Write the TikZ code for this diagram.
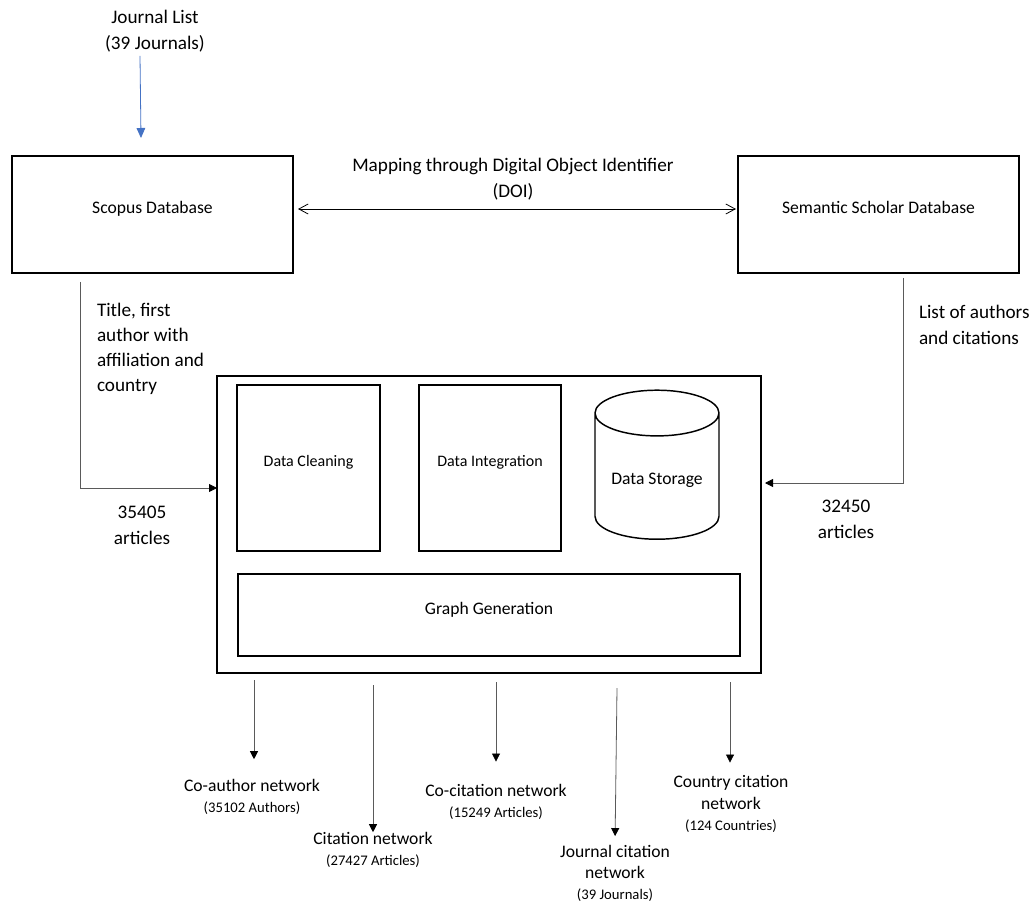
\documentclass[tikz,border=0pt]{standalone}
\usepackage{fontspec}
\setmainfont{Carlito}
\usetikzlibrary{arrows.meta, shapes.geometric}
\definecolor{linegray}{RGB}{90,90,90}
\definecolor{arrowblue}{RGB}{68,114,196}

\begin{document}
\begin{tikzpicture}[x=0.75pt, y=-0.75pt]
\tikzset{ inner sep=0pt, outer sep=0pt,
  box/.style={draw, line width=1.1pt},
  raised/.style={text depth=10pt},
  conn/.style={linegray, line width=0.6pt, -{Triangle[length=6pt, width=6pt, color=black]}},
  big/.style={align=center, font=\fontsize{14.4}{19.5}\selectfont},
  mid/.style={align=center, font=\fontsize{13.2}{16}\selectfont},
  sml/.style={align=center, font=\fontsize{12}{14}\selectfont},
}
\newcommand{\cnt}[1]{{\fontsize{11}{13}\selectfont #1}}

\useasboundingbox (0,0) rectangle (1034,905);

%\draw [lightgray, dashed](0,0) grid[step=50] (1034,905);

\node [big] (jlist) at (155,31) {Journal List\\(39 Journals)};
\node [big] (doi) at (513,179) {Mapping through Digital Object Identifier\\(DOI)};

\node [box, mid, raised, minimum width=210.75pt, minimum height=87.75pt] (scopus) at (152.5,214.5) {Scopus Database};
\node [box, mid, raised, minimum width=210.75pt, minimum height=87.75pt] (semantic) at (878.5,214.5) {Semantic Scholar Database};

\node [box, minimum width=408pt, minimum height=222.75pt] (main) at (489,524.5) {};
\node [box, sml, raised, minimum width=107.25pt, minimum height=124.5pt] (clean) at (308.5,468) {Data Cleaning};
\node [box, sml, raised, minimum width=106.5pt, minimum height=124.5pt] (integ) at (490,468) {Data Integration};
\node [box, mid, text height=15pt, cylinder, shape border rotate=90, aspect=0.5, minimum width=93pt, minimum height=111.75pt] (store) at (657,476.5) {Data Storage};
\node [box, mid, raised, minimum width=376.5pt, minimum height=61.5pt] (graph) at (489,615) {Graph Generation};

\node [big, align=left, anchor=west, font=\fontsize{14.4}{18.75}\selectfont] (scinfo) at (97,348.5) {Title, first\\author with\\affiliation and\\country};
\node [big] (scnum) at (142,525) {35405\\articles};
\node [big, align=left, anchor=west] (ssinfo) at (919,325) {List of authors\\and citations};
\node [big] (ssnum) at (846,519.5) {32450\\articles};

\node [mid] (coauth) at (252,797) {Co-author network\\\cnt{(35102 Authors)}};
\node [mid] (cite) at (373,850) {Citation network\\\cnt{(27427 Articles)}};
\node [mid] (cocite) at (496,802) {Co-citation network\\\cnt{(15249 Articles)}};
\node [mid] (jcite) at (615,873.5) {Journal citation\\network\\\cnt{(39 Journals)}};
\node [mid] (ccite) at (731,804) {Country citation\\network\\\cnt{(124 Countries)}};

\coordinate (jlend) at (141,138);
\coordinate (scout) at (80,282);
\coordinate (ssout) at (903,278);
\coordinate (o1) at (254,680);
\coordinate (o2) at (373,685);
\coordinate (o3) at (496,682);
\coordinate (o4) at (617,688);
\coordinate (o5) at (730,682);

\draw [arrowblue, line width=0.6pt, -{Triangle[length=7.5pt, width=6.5pt]}] ([xshift=-11.25pt, yshift=-3pt]jlist.south) -- (jlend);
\draw [line width=0.6pt, {Straight Barb[length=7pt, width=7.5pt]}-{Straight Barb[length=7pt, width=7.5pt]}, shorten <=3.75pt, shorten >=1.5pt] (scopus.east |- 0,209) -- (semantic.west |- 0,209);

\draw [conn] (scout) |- (main.west |- 0,488);
\draw [conn, shorten >=3pt] (ssout) |- (main.east |- 0,483);

\draw [conn, shorten >=15pt] (o1) -- (o1 |- coauth.north);
\draw [conn] (o2) -- (o2 |- cite.north);
\draw [conn, shorten >=17pt] (o3) -- (o3 |- cocite.north);
\draw [conn, shorten >=6.75pt] (o4) -- (jcite.north);
\draw [conn, shorten >=9.75pt] (o5) -- (o5 |- ccite.north);

\end{tikzpicture}
\end{document}
